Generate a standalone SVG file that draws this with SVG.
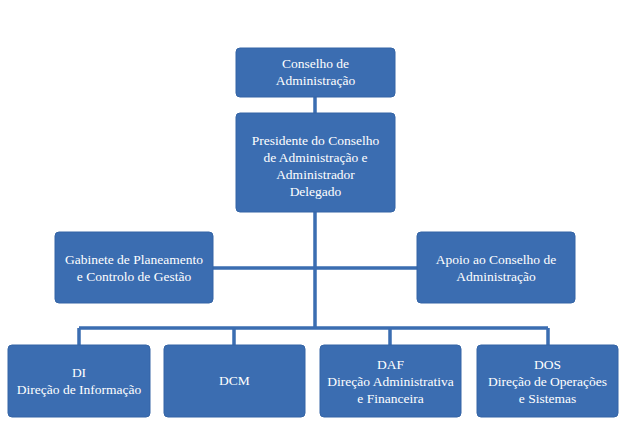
<svg xmlns="http://www.w3.org/2000/svg" width="626" height="442" viewBox="0 0 626 442">
<style>
.b{fill:#3b6db1;stroke:#3565a6;stroke-width:1}
.t{fill:#fff;font-family:"Liberation Serif",serif;font-size:13.5px;text-anchor:middle}
.c{stroke:#3b6db1;stroke-width:3.5;fill:none}
</style>
<rect width="626" height="442" fill="#fff"/>
<g id="connectors">
<path class="c" d="M315 97V113M315 212V328M213 268H417M79 328H548M79 328V345M234 328V345M390 328V345M548 328V345"/>
</g>
<g id="n1"><rect class="b" x="236" y="48" width="159" height="49" rx="4"/><text class="t" x="315.5" y="68">Conselho de</text><text class="t" x="315.5" y="85">Administração</text></g>
<g id="n2"><rect class="b" x="236" y="113" width="159" height="99" rx="4"/><text class="t" x="315.5" y="145">Presidente do Conselho</text><text class="t" x="315.5" y="162">de Administração e</text><text class="t" x="315.5" y="179">Administrador</text><text class="t" x="315.5" y="196">Delegado</text></g>
<g id="n3"><rect class="b" x="55" y="232" width="158" height="71" rx="4"/><text class="t" x="134" y="264">Gabinete de Planeamento</text><text class="t" x="134" y="281">e Controlo de Gestão</text></g>
<g id="n4"><rect class="b" x="417" y="232" width="158" height="71" rx="4"/><text class="t" x="496" y="264">Apoio ao Conselho de</text><text class="t" x="496" y="281">Administração</text></g>
<g id="n5"><rect class="b" x="8" y="345" width="142" height="72" rx="4"/><text class="t" x="79" y="377">DI</text><text class="t" x="79" y="394">Direção de Informação</text></g>
<g id="n6"><rect class="b" x="164" y="345" width="141" height="72" rx="4"/><text class="t" x="234.5" y="385">DCM</text><text class="t" x="234.5" y="385" dy="-4" opacity="0"></text><text class="t" x="234.5" y="385"></text></g>
<g id="n7"><rect class="b" x="320" y="345" width="141" height="72" rx="4"/><text class="t" x="390.5" y="369">DAF</text><text class="t" x="390.5" y="386">Direção Administrativa</text><text class="t" x="390.5" y="403">e Financeira</text></g>
<g id="n8"><rect class="b" x="477" y="345" width="141" height="72" rx="4"/><text class="t" x="547.5" y="369">DOS</text><text class="t" x="547.5" y="386">Direção de Operações</text><text class="t" x="547.5" y="403">e Sistemas</text></g>
</svg>
